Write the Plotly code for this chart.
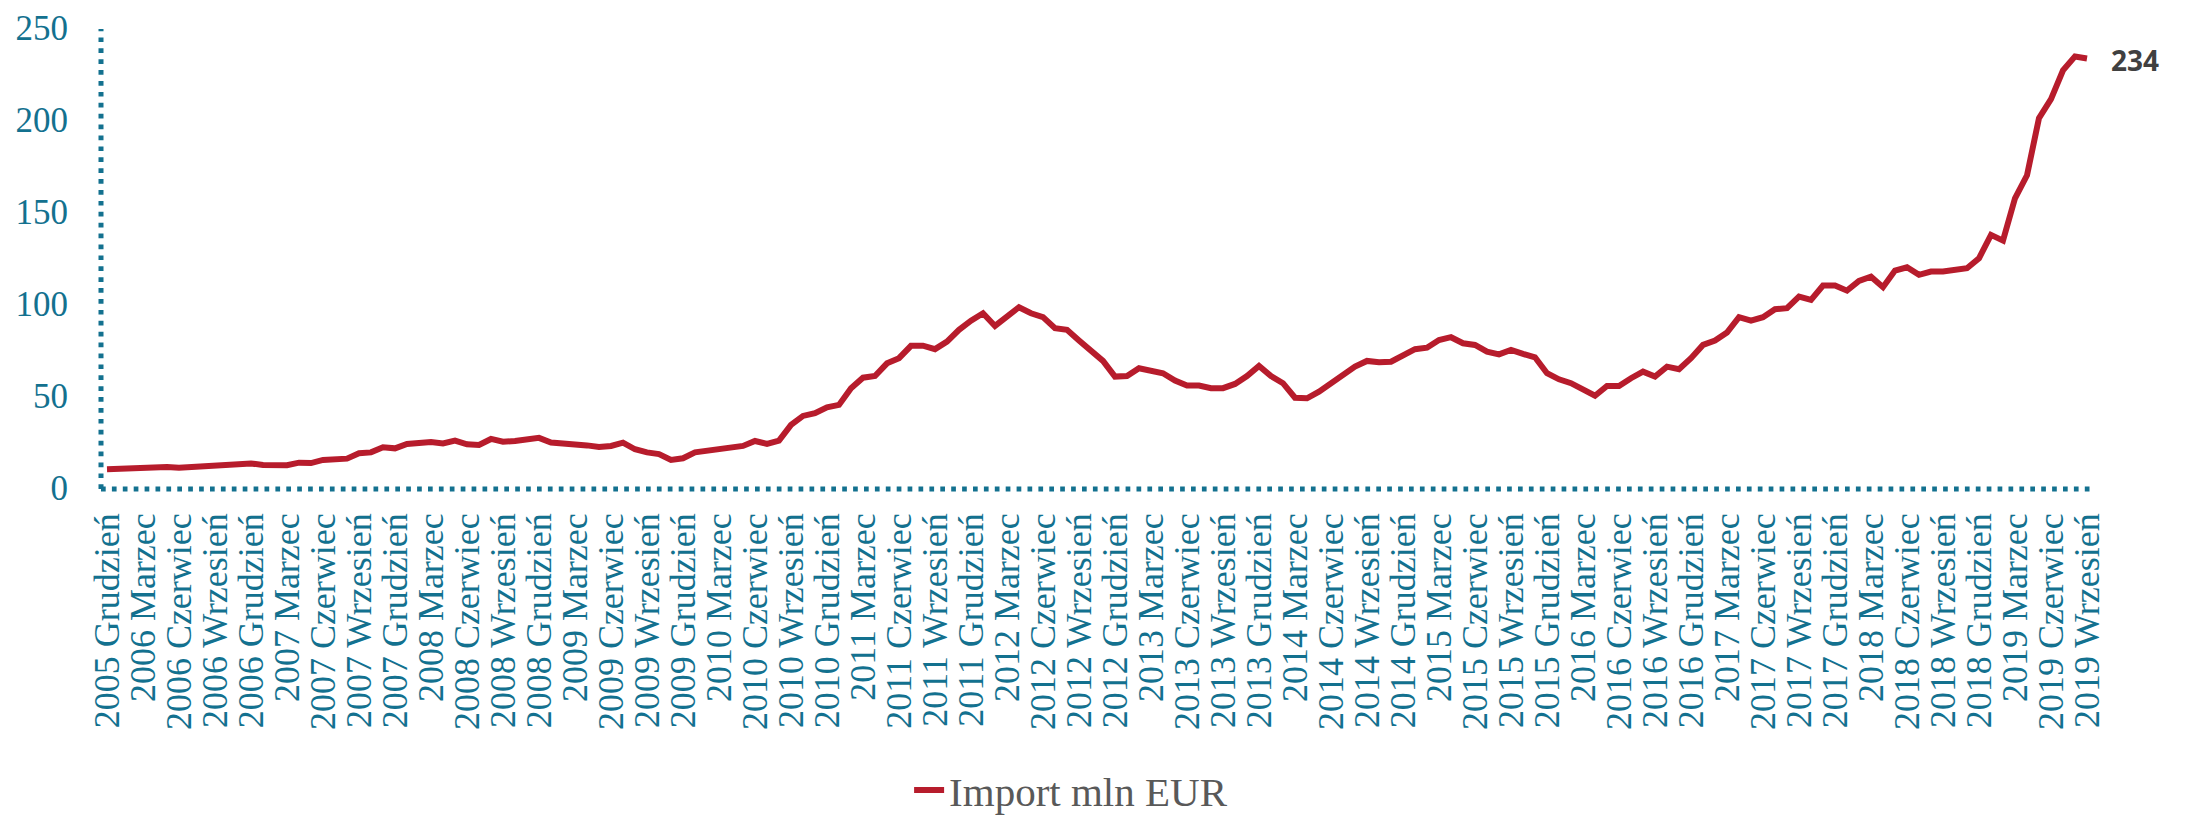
import plotly.graph_objects as go

# ---- data ----
years = list(range(2005, 2020))
month_names = ["Styczeń", "Luty", "Marzec", "Kwiecień", "Maj", "Czerwiec",
               "Lipiec", "Sierpień", "Wrzesień", "Październik", "Listopad", "Grudzień"]
start_year, start_month = 2005, 12   # first observation
end_year, end_month = 2019, 9        # last observation

import_mln_eur = [
    10.7, 11.0, 10.9, 11.2, 11.6, 12.0, 11.6, 12.1, 12.3, 12.5,
    13.2, 13.4, 13.9, 13.0, 13.2, 12.9, 14.3, 14.1, 15.8, 16.5,
    16.5, 19.4, 19.9, 22.7, 22.1, 24.5, 24.8, 25.6, 24.8, 26.3,
    24.3, 23.9, 27.2, 25.7, 26.1, 26.6, 27.8, 25.3, 24.8, 24.7,
    23.7, 22.8, 23.4, 25.2, 21.6, 19.9, 19.0, 15.8, 16.7, 19.9,
    20.8, 22.1, 22.5, 23.4, 26.1, 24.5, 26.3, 34.8, 39.7, 41.2,
    44.4, 45.7, 54.8, 60.5, 61.4, 68.3, 71.1, 77.8, 77.9, 76.0,
    80.1, 86.5, 91.5, 95.5, 88.6, 94.1, 98.8, 95.5, 93.4, 87.4,
    86.5, 80.7, 75.2, 69.6, 61.1, 61.4, 65.6, 64.3, 62.9, 58.9,
    56.2, 56.2, 54.8, 54.8, 57.1, 61.4, 66.9, 61.4, 57.5, 49.6,
    49.3, 52.9, 57.5, 61.4, 66.5, 69.6, 68.9, 69.2, 72.9, 76.0,
    76.8, 81.0, 82.5, 79.2, 78.3, 74.7, 73.2, 75.6, 73.4, 71.6,
    62.9, 59.6, 57.5, 53.8, 50.7, 56.0, 56.0, 60.2, 63.8, 61.1,
    66.5, 65.1, 71.1, 78.3, 80.7, 85.0, 93.4, 91.5, 93.4, 97.7,
    98.3, 104.6, 102.8, 110.6, 110.6, 107.8, 113.1, 115.4, 109.7, 118.7,
    120.5, 116.4, 118.2, 118.2, 119.5, 120.0, 125.4, 138.1, 135.0, 158.0,
    170.5, 201.6, 211.9, 227.5, 235.1, 234.0,
]
series_name = "Import mln EUR"
last_label = "234"
y_ticks = [0, 50, 100, 150, 200, 250]

# categories: every month between start and end
categories = []
for y in years:
    for m in range(1, 13):
        if (y, m) < (start_year, start_month) or (y, m) > (end_year, end_month):
            continue
        categories.append(f"{y} {month_names[m - 1]}")
assert len(categories) == len(import_mln_eur)
tick_labels = categories[::3]

# ---- styles ----
TEAL = "#13718f"
RED = "#b71c2c"

fig = go.Figure()
fig.add_trace(go.Scatter(
    x=categories, y=import_mln_eur, mode="lines", name=series_name,
    line=dict(color=RED, width=6), showlegend=True,
))

fig.add_annotation(
    x=categories[-1], y=import_mln_eur[-1], text=f"<b>{last_label}</b>",
    showarrow=False, xanchor="left", yanchor="middle", xshift=22, yshift=-2,
    font=dict(family="Open Sans", size=28, color="#404040"),
)

dot = "4.7px,6.2px"
fig.add_shape(type="line", xref="paper", yref="paper", x0=0, x1=1, y0=0, y1=0,
              line=dict(color=TEAL, width=5, dash=dot), layer="above")
fig.add_shape(type="line", xref="paper", yref="paper", x0=0, x1=0, y0=0, y1=1,
              line=dict(color=TEAL, width=5, dash=dot), layer="above")

# page body adds an 8px margin, so the figure is 8px smaller in each direction
fig.update_layout(
    width=2179, height=807,
    margin=dict(l=93, r=94, t=21, b=326, autoexpand=False),
    paper_bgcolor="white", plot_bgcolor="white",
    showlegend=True,
    legend=dict(orientation="h", x=0.487, y=-0.655, xanchor="center", yanchor="middle",
                font=dict(family="Liberation Serif", size=41, color="#595959"),
                bgcolor="rgba(0,0,0,0)"),
    xaxis=dict(
        type="category", categoryorder="array", categoryarray=categories,
        range=[-0.5, len(categories) - 0.5],
        tickmode="array", tickvals=tick_labels, ticktext=tick_labels,
        tickangle=-90, ticks="", showgrid=False, zeroline=False, showline=False,
        tickfont=dict(family="Liberation Serif", size=36, color=TEAL),
        ticklabelstandoff=16, ticklabeloverflow="allow", automargin=False,
    ),
    yaxis=dict(
        range=[0, 250], tickmode="array", tickvals=y_ticks,
        ticks="", showgrid=False, zeroline=False, showline=False,
        tickfont=dict(family="Liberation Serif", size=35, color=TEAL),
        ticklabelstandoff=32, ticklabelshift=-1, ticklabeloverflow="allow",
        automargin=False,
    ),
)

fig.write_html("out.html")
